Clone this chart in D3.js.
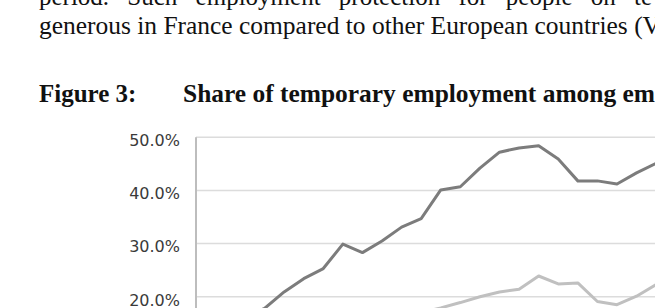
<!DOCTYPE html>
<html>
<head>
<meta charset="utf-8">
<script src="https://cdn.jsdelivr.net/npm/d3@7"></script>
<style>
  html, body { margin: 0; padding: 0; background: #fff; overflow: hidden; }
  svg { display: block; }
</style>
</head>
<body>
<div id="chart"></div>
<script>
// categories (years) - only part of the chart is visible in the crop
const years = [1983, 1984, 1985, 1986, 1987, 1988, 1989, 1990, 1991, 1992, 1993, 1994, 1995,
               1996, 1997, 1998, 1999, 2000, 2001, 2002, 2003, 2004, 2005, 2006, 2007, 2008];

// share of temporary employment (%), dark series
const darkSeries = [13.5, 15.0, 16.2, 17.8, 20.9, 23.4, 25.3, 29.9, 28.3, 30.5, 33.1, 34.7, 40.1,
                    40.7, 44.2, 47.2, 48.0, 48.4, 45.9, 41.8, 41.8, 41.2, 43.3, 45.1, 46.5, 47.5];

// share of temporary employment (%), light series
const lightSeries = [8.5, 9.5, 10.5, 11.0, 12.0, 12.8, 13.5, 14.5, 15.2, 15.8, 16.5, 17.0, 17.9,
                     18.9, 20.0, 20.9, 21.4, 23.9, 22.4, 22.6, 19.1, 18.5, 20.1, 22.3, 24.0, 24.5];

const yTicks = [0, 10, 20, 30, 40, 50];

// surrounding document text
const bodyLine1 = ["period.", "Such", "employment", "protection", "for", "people", "on", "te"];
const bodyLine2 = "generous in France compared to other European countries (V";
const figLabel = "Figure 3:";
const figTitle = "Share of temporary employment among em";

function draw() {
  const width = 655, height = 308;

  const svg = d3.select("#chart").append("svg")
      .attr("width", width)
      .attr("height", height)
      .attr("viewBox", [0, 0, width, height]);

  svg.append("rect").attr("width", width).attr("height", height).attr("fill", "#fff");

  // document text above the figure
  const serif = "'Liberation Serif', 'Times New Roman', serif";
  svg.append("text")
      .attr("x", 39)
      .attr("y", 5)
      .attr("font-family", serif)
      .attr("font-size", 25)
      .attr("fill", "#111")
      .attr("word-spacing", "12px")
      .text(bodyLine1.join(" "));

  svg.append("text")
      .attr("x", 39)
      .attr("y", 33.5)
      .attr("font-family", serif)
      .attr("font-size", 25)
      .attr("fill", "#111")
      .attr("textLength", 622)
      .attr("lengthAdjust", "spacingAndGlyphs")
      .text(bodyLine2);

  svg.append("text")
      .attr("x", 39)
      .attr("y", 101.5)
      .attr("font-family", serif)
      .attr("font-weight", "bold")
      .attr("font-size", 25)
      .attr("fill", "#111")
      .text(figLabel);

  svg.append("text")
      .attr("x", 183)
      .attr("y", 101.5)
      .attr("font-family", serif)
      .attr("font-weight", "bold")
      .attr("font-size", 25)
      .attr("fill", "#111")
      .attr("textLength", 472)
      .attr("lengthAdjust", "spacingAndGlyphs")
      .text(figTitle);

  // chart scales
  const step = 19.58;
  const x = d3.scaleBand()
      .domain(years)
      .range([196, 196 + step * years.length])
      .padding(0);

  const y = d3.scaleLinear()
      .domain([0, 50])
      .range([403, 137.3]);

  const cx = d => x(d) + x.bandwidth() / 2;

  // gridlines
  svg.append("g")
    .selectAll("line")
    .data(yTicks)
    .join("line")
      .attr("x1", 196)
      .attr("x2", x.range()[1])
      .attr("y1", d => y(d))
      .attr("y2", d => y(d))
      .attr("stroke", "#dcdcdc")
      .attr("stroke-width", 1.5);

  // y axis line
  svg.append("line")
      .attr("x1", 196).attr("x2", 196)
      .attr("y1", y(50)).attr("y2", y(0))
      .attr("stroke", "#bdbdbd")
      .attr("stroke-width", 2);

  // y tick labels
  const fmt = d3.format(".1f");
  svg.append("g")
    .selectAll("text")
    .data(yTicks)
    .join("text")
      .attr("x", 180)
      .attr("y", d => y(d))
      .attr("dy", "0.55em")
      .attr("text-anchor", "end")
      .attr("font-family", "'DejaVu Sans', Verdana, sans-serif")
      .attr("font-size", 16)
      .attr("fill", "#3a3a3a")
      .text(d => fmt(d) + "%");

  const line = d3.line()
      .x((d, i) => cx(years[i]))
      .y(d => y(d));

  svg.append("path")
      .datum(lightSeries)
      .attr("fill", "none")
      .attr("stroke", "#c0c0c0")
      .attr("stroke-width", 3)
      .attr("stroke-linejoin", "round")
      .attr("d", line);

  svg.append("path")
      .datum(darkSeries)
      .attr("fill", "none")
      .attr("stroke", "#7c7c7c")
      .attr("stroke-width", 3)
      .attr("stroke-linejoin", "round")
      .attr("d", line);
}

document.addEventListener("DOMContentLoaded", draw);
</script>
</body>
</html>
